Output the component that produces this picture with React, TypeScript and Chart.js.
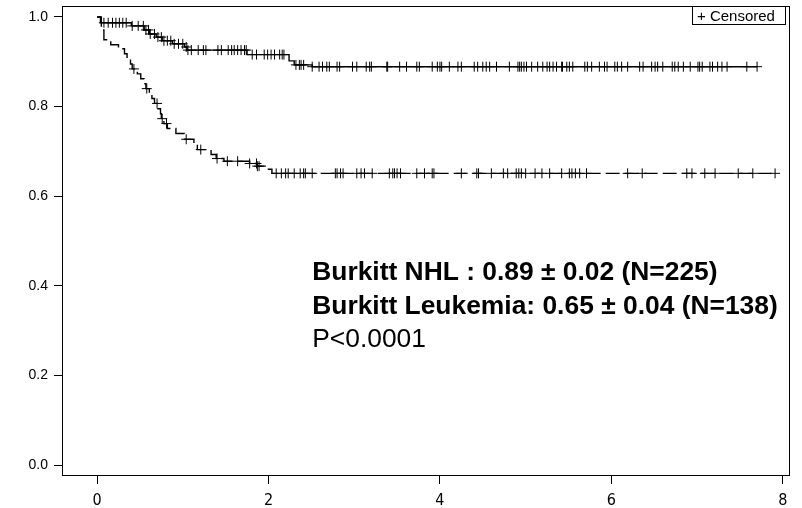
import React, { useEffect, useRef } from "react";
import { Chart, registerables } from "chart.js";

Chart.register(...registerables);

// Axis ticks
const xTicks = [0, 2, 4, 6, 8];
const yTicks = [0, 0.2, 0.4, 0.6, 0.8, 1.0];
const yTickLabels = ["0.0", "0.2", "0.4", "0.6", "0.8", "1.0"];

// Burkitt NHL: event times (years) and survival after each event
const nhlStepTimes = [0, 0.04, 0.4, 0.55, 0.61, 0.69, 0.76, 0.88, 1.02, 1.05, 1.75, 2.24, 2.3, 2.51];
const nhlStepSurv = [1.0, 0.987, 0.98, 0.971, 0.962, 0.955, 0.947, 0.94, 0.933, 0.926, 0.916, 0.902, 0.893, 0.889];
const nhlCensorTimes = [
  0.08, 0.13, 0.18, 0.22, 0.26, 0.3, 0.34, 0.41, 0.48, 0.54, 0.57, 0.6, 0.62, 0.67, 0.71, 0.75, 0.78,
  0.82, 0.86, 0.9, 0.95, 1.0, 1.04, 1.06, 1.1, 1.18, 1.24, 1.27, 1.41, 1.45, 1.53, 1.57, 1.6, 1.64,
  1.68, 1.72, 1.74, 1.81, 1.86, 1.95, 1.99, 2.03, 2.07, 2.13, 2.16, 2.18, 2.32, 2.36, 2.38, 2.41, 2.51,
  2.59, 2.63, 2.68, 2.71, 2.8, 2.83, 2.98, 3.03, 3.14, 3.18, 3.2, 3.38, 3.39, 3.53, 3.61, 3.73, 3.76,
  3.91, 3.97, 4.0, 4.02, 4.11, 4.21, 4.25, 4.4, 4.44, 4.5, 4.54, 4.58, 4.66, 4.81, 4.91, 4.93, 4.95,
  4.98, 5.01, 5.07, 5.14, 5.2, 5.25, 5.28, 5.32, 5.36, 5.42, 5.43, 5.48, 5.51, 5.55, 5.69, 5.72, 5.77,
  5.86, 5.92, 5.95, 6.04, 6.07, 6.12, 6.19, 6.33, 6.37, 6.47, 6.51, 6.54, 6.6, 6.71, 6.74, 6.78, 6.84,
  6.92, 7.01, 7.03, 7.06, 7.15, 7.18, 7.24, 7.29, 7.35, 7.58, 7.7,
];

// Burkitt Leukemia: event times (years) and survival after each event
const leuStepTimes = [
  0, 0.05, 0.08, 0.16, 0.25, 0.32, 0.35, 0.39, 0.41, 0.47, 0.51, 0.55, 0.57, 0.61, 0.64, 0.67, 0.71,
  0.74, 0.75, 0.78, 0.82, 0.92, 1.02, 1.13, 1.17, 1.33, 1.39, 1.48, 1.78, 1.87, 1.99, 2.04,
];
const leuStepSurv = [
  1.0, 0.971, 0.949, 0.938, 0.929, 0.918, 0.907, 0.895, 0.884, 0.873, 0.862, 0.851, 0.84, 0.829, 0.818,
  0.807, 0.795, 0.784, 0.773, 0.762, 0.751, 0.74, 0.727, 0.716, 0.704, 0.693, 0.684, 0.678, 0.673,
  0.667, 0.66, 0.651,
];
const leuCensorTimes = [
  0.43, 0.58, 0.7, 0.76, 0.81, 1.04, 1.21, 1.4, 1.52, 1.64, 1.78, 1.86, 1.87, 1.89, 2.09, 2.15, 2.2,
  2.23, 2.3, 2.37, 2.41, 2.43, 2.51, 2.78, 2.8, 2.84, 2.87, 3.03, 3.08, 3.12, 3.21, 3.41, 3.45, 3.47,
  3.5, 3.54, 3.73, 3.82, 3.91, 3.93, 4.25, 4.43, 4.45, 4.6, 4.74, 4.79, 4.89, 4.92, 4.95, 5.0, 5.11,
  5.19, 5.28, 5.42, 5.51, 5.54, 5.58, 5.63, 5.71, 6.19, 6.36, 6.88, 6.94, 7.09, 7.21, 7.48, 7.65, 7.91,
];

const summaryLines = [
  { text: "Burkitt NHL : 0.89 \u00b1 0.02 (N=225)", bold: true },
  { text: "Burkitt Leukemia: 0.65 \u00b1 0.04 (N=138)", bold: true },
  { text: "P<0.0001", bold: false },
];
const legendLabel = "+ Censored";

const survivalAt = (times: number[], surv: number[], t: number) => {
  let s = surv[0];
  for (let i = 0; i < times.length; i++) {
    if (times[i] <= t) s = surv[i];
  }
  return s;
};

const curvePoints = (times: number[], surv: number[], censors: number[]) => {
  const pts = times.map((t, i) => ({ x: t, y: surv[i] }));
  const end = censors[censors.length - 1];
  pts.push({ x: end, y: survivalAt(times, surv, end) });
  return pts;
};

const censorPoints = (times: number[], surv: number[], censors: number[]) =>
  censors.map((t) => ({ x: t, y: survivalAt(times, surv, t) }));

const SANS = "'Liberation Sans', Arial, Helvetica, sans-serif";
const NARROW = "'Liberation Sans Narrow', 'DejaVu Sans Condensed', 'Liberation Sans', sans-serif";

const framePlugin = {
  id: "frameAndNotes",
  afterDraw(chart: any) {
    const { ctx, chartArea, scales } = chart;
    const { left, top, right, bottom } = chartArea;
    ctx.save();
    ctx.strokeStyle = "#000";
    ctx.lineWidth = 1;
    ctx.strokeRect(left + 0.5, top + 0.5, right - left - 1, bottom - top - 1);

    // censored legend box
    ctx.strokeRect(692.5, 6.5, 93, 18);
    ctx.fillStyle = "#000";
    ctx.font = `15px ${SANS}`;
    ctx.textBaseline = "alphabetic";
    ctx.textAlign = "left";
    ctx.fillText(legendLabel, 697, 21);

    // survival summary
    const x = scales.x.getPixelForValue(2.51);
    const ys = [0.429, 0.353, 0.28];
    ctx.textBaseline = "middle";
    summaryLines.forEach((line, i) => {
      ctx.font = `${line.bold ? "bold " : ""}26.4px ${SANS}`;
      ctx.fillText(line.text, x, scales.y.getPixelForValue(ys[i]));
    });
    ctx.restore();
  },
};

export default function App() {
  const canvasRef = useRef<HTMLCanvasElement | null>(null);

  useEffect(() => {
    if (!canvasRef.current) return;
    const lineStyle = {
      showLine: true,
      stepped: "before" as const,
      borderColor: "#000",
      borderWidth: 1.4,
      pointRadius: 0,
      fill: false,
    };
    const censorStyle = {
      showLine: false,
      pointStyle: "cross" as const,
      pointRadius: 5,
      pointBorderColor: "#000",
      pointBorderWidth: 1,
      borderColor: "#000",
    };
    const chart = new Chart(canvasRef.current, {
      type: "line",
      data: {
        datasets: [
          { ...lineStyle, label: "Burkitt NHL", data: curvePoints(nhlStepTimes, nhlStepSurv, nhlCensorTimes) },
          {
            ...lineStyle,
            label: "Burkitt Leukemia",
            borderDash: [14, 5],
            data: curvePoints(leuStepTimes, leuStepSurv, leuCensorTimes),
          },
          { ...censorStyle, label: "NHL censored", data: censorPoints(nhlStepTimes, nhlStepSurv, nhlCensorTimes) },
          { ...censorStyle, label: "Leukemia censored", data: censorPoints(leuStepTimes, leuStepSurv, leuCensorTimes) },
        ],
      },
      options: {
        responsive: false,
        animation: false,
        layout: { padding: { left: 0, right: 12, top: 4, bottom: 0 } },
        plugins: { legend: { display: false }, tooltip: { enabled: false } },
        scales: {
          x: {
            type: "linear",
            min: -0.409,
            max: 8.084,
            afterBuildTicks: (scale: any) => {
              scale.ticks = xTicks.map((v) => ({ value: v }));
            },
            afterFit: (scale: any) => {
              scale.height = 32;
              scale.paddingLeft = 0;
              scale.paddingRight = 0;
            },
            border: { display: false },
            grid: { drawOnChartArea: false, drawTicks: true, tickLength: 8, color: "#000", lineWidth: 1 },
            ticks: {
              color: "#000",
              padding: 7,
              maxRotation: 0,
              font: { family: NARROW, size: 16 },
              callback: (v: any) => String(v),
            },
          },
          y: {
            type: "linear",
            min: -0.0244,
            max: 1.0244,
            afterBuildTicks: (scale: any) => {
              scale.ticks = yTicks.map((v) => ({ value: v }));
            },
            afterFit: (scale: any) => {
              scale.width = 62;
              scale.paddingTop = 0;
              scale.paddingBottom = 0;
            },
            border: { display: false },
            grid: { drawOnChartArea: false, drawTicks: true, tickLength: 8, color: "#000", lineWidth: 1 },
            ticks: {
              color: "#000",
              padding: 6,
              font: { family: SANS, size: 14 },
              callback: (v: any) => {
                const i = yTicks.findIndex((t) => Math.abs(t - Number(v)) < 1e-6);
                return i >= 0 ? yTickLabels[i] : "";
              },
            },
          },
        },
      },
      plugins: [framePlugin],
    });
    return () => chart.destroy();
  }, []);

  return (
    <div style={{ position: "absolute", left: 0, top: 0, width: 802, height: 508, background: "#fff" }}>
      <canvas ref={canvasRef} width={802} height={508} />
    </div>
  );
}
